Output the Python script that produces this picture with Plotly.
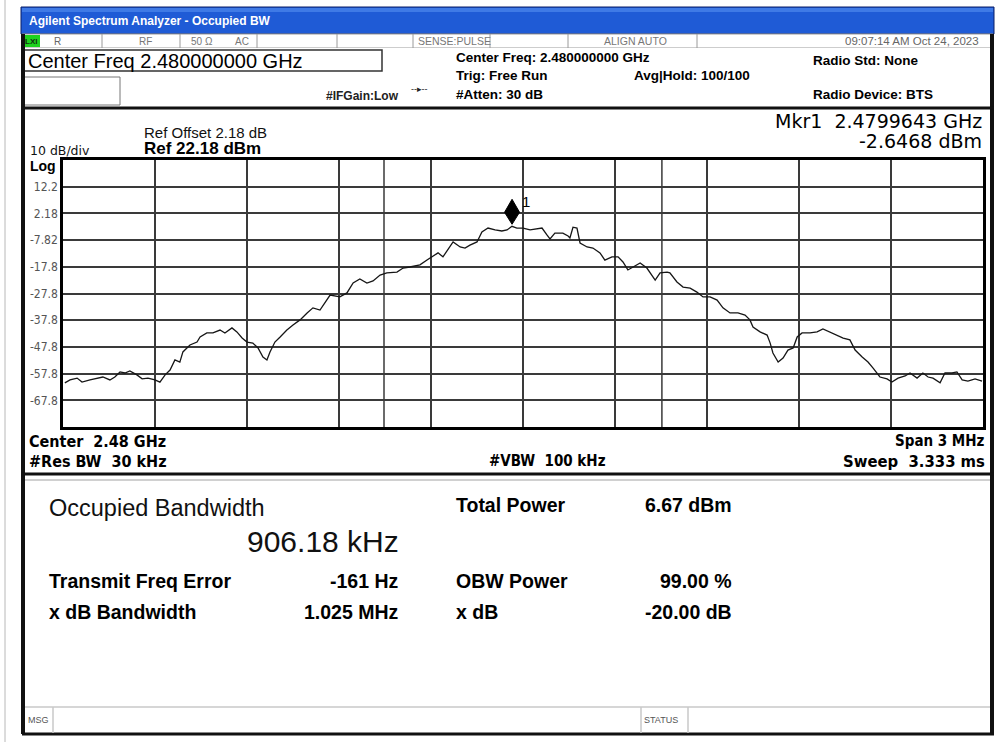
import plotly.graph_objects as go

# ---------------- data ----------------
freq_khz = [
    -1494, -1477, -1454, -1438, -1412, -1386, -1370, -1347, -1331, -1314,
    -1298, -1282, -1259, -1242, -1223, -1200, -1184, -1167, -1151, -1135,
    -1119, -1109, -1086, -1063, -1053, -1031, -1011, -988, -972, -949,
    -933, -916, -900, -881, -864, -848, -835, -825, -809, -792,
    -770, -750, -727, -704, -685, -662, -646, -629, -597, -574,
    -554, -532, -509, -489, -466, -444, -411, -391, -369, -336,
    -313, -297, -277, -261, -245, -228, -205, -189, -173, -150,
    -134, -114, -91, -69, -52, -36, -20, 0, 23, 46,
    62, 78, 88, 104, 130, 147, 153, 163, 176, 186,
    209, 228, 251, 267, 290, 310, 326, 342, 359, 382,
    404, 421, 431, 447, 470, 479, 502, 522, 545, 567,
    587, 610, 633, 652, 675, 701, 724, 740, 750, 773,
    796, 806, 815, 832, 848, 864, 881, 894, 910, 936,
    959, 978, 1001, 1024, 1044, 1066, 1083, 1106, 1125, 1141,
    1164, 1187, 1203, 1223, 1246, 1262, 1285, 1304, 1321, 1337,
    1360, 1376, 1399, 1415, 1432, 1451, 1474, 1497,
]
level_dbm = [
    -61.3, -60.2, -59.5, -61.0, -60.2, -59.5, -59.1, -60.2, -59.1, -57.2,
    -57.6, -56.8, -58.3, -59.8, -59.5, -60.2, -61.0, -58.3, -56.5, -52.7,
    -53.5, -49.7, -47.1, -46.0, -44.1, -42.6, -42.6, -41.5, -42.6, -40.7,
    -42.2, -44.5, -46.0, -46.4, -48.2, -51.6, -52.7, -49.7, -46.0, -44.1,
    -41.5, -39.6, -37.7, -35.1, -33.2, -34.0, -31.4, -28.4, -29.1, -27.6,
    -23.9, -22.4, -23.9, -23.1, -20.9, -20.1, -19.8, -18.3, -17.9, -17.1,
    -15.3, -14.1, -12.6, -14.1, -11.5, -8.5, -10.4, -10.8, -9.7, -8.5,
    -4.8, -3.3, -4.0, -4.4, -4.0, -2.65, -3.3, -3.3, -4.0, -3.7,
    -3.3, -5.9, -7.4, -5.2, -5.2, -6.3, -7.0, -3.0, -3.3, -8.9,
    -10.4, -10.8, -12.6, -15.3, -14.1, -14.1, -16.0, -19.0, -17.9, -16.4,
    -18.3, -20.9, -22.8, -20.1, -19.8, -20.1, -23.5, -25.4, -25.8, -27.3,
    -29.1, -29.1, -30.3, -33.2, -35.1, -35.1, -35.9, -37.7, -40.4, -42.2,
    -43.4, -46.4, -50.1, -53.5, -52.0, -49.0, -48.2, -44.1, -42.6, -42.6,
    -42.2, -41.1, -42.2, -43.4, -44.5, -45.2, -49.0, -51.6, -53.5, -55.7,
    -59.1, -59.8, -61.0, -59.5, -58.7, -57.6, -59.5, -57.6, -59.1, -59.5,
    -61.3, -57.6, -57.6, -57.2, -60.2, -60.6, -59.8, -60.6,
]
assert len(freq_khz) == len(level_dbm)

span_khz = 3000
ref_level = 22.18
db_per_div = 10
ytick_labels = ["12.2", "2.18", "-7.82", "-17.8", "-27.8", "-37.8", "-47.8", "-57.8", "-67.8"]
ytick_vals = [ref_level - db_per_div * (i + 1) for i in range(len(ytick_labels))]

mkr_freq_khz = -35.7
mkr_level = -2.6468
obw_khz = 906.18
freq_err_khz = -0.161
obw_edges = [freq_err_khz - obw_khz / 2, freq_err_khz + obw_khz / 2]

# ---------------- geometry helpers ----------------
W, H = 1001, 742
L, R, T, B = 63, 983, 160, 427


def px(x):
    return (x - L) / (R - L)


def py(y):
    return (B - y) / (B - T)


shapes = []
annos = []

SANS = "Liberation Sans, Arial, DejaVu Sans, sans-serif"
WIDE = "DejaVu Sans, Verdana, sans-serif"
NARROW = "Liberation Sans Narrow, DejaVu Sans Condensed, Arial Narrow, sans-serif"


def rect(x0, y0, x1, y1, fill=None, line_color=None, lw=0, layer="below"):
    d = dict(type="rect", xref="paper", yref="paper",
             x0=px(x0), x1=px(x1), y0=py(y1), y1=py(y0), layer=layer,
             line=dict(width=lw, color=line_color or "rgba(0,0,0,0)"))
    if fill:
        d["fillcolor"] = fill
    shapes.append(d)


def line(x0, y0, x1, y1, color="#000", lw=1, layer="below"):
    shapes.append(dict(type="line", xref="paper", yref="paper",
                       x0=px(x0), x1=px(x1), y0=py(y0), y1=py(y1), layer=layer,
                       line=dict(width=lw, color=color)))


def text(x, y, s, size, color="#000", bold=False, xanchor="left", family=SANS):
    annos.append(dict(x=px(x), y=py(y), xref="paper", yref="paper", text=s,
                      showarrow=False, xanchor=xanchor, yanchor="middle",
                      borderpad=0,
                      font=dict(size=size, color=color, family=family,
                                weight="bold" if bold else "normal")))


# window edge
line(5, 0, 5, 742, color="#b8b8b8", lw=1)

# title bar
rect(21, 7, 994, 34, fill="#1f5bd6", line_color="#0b1f66", lw=1)
rect(22, 8, 993, 12, fill="#3f7ae6")
text(28, 21, "Agilent Spectrum Analyzer - Occupied BW", 12, color="#ffffff", bold=True)

# status row
rect(22, 34, 993, 48, fill="#ffffff", line_color="#9a9a9a", lw=1)
rect(23, 35, 40, 47, fill="#1ed21e")
text(24, 41, "LXI", 8, color="#103010", bold=True)
text(53, 41, "R", 10, color="#666666")
text(138, 41, "RF", 10, color="#777777")
text(190, 41, "50 Ω", 10, color="#777777")
text(234, 41, "AC", 10, color="#777777")
text(417, 41, "SENSE:PULSE", 10.5, color="#777777")
text(603, 41, "ALIGN AUTO", 10.5, color="#777777")
text(980, 41, "09:07:14 AM Oct 24, 2023", 11.5, color="#666666", xanchor="right")
for xd in [102, 180, 257, 337, 413, 490, 568, 697]:
    line(xd, 34, xd, 48, color="#9a9a9a", lw=1)

# header area
rect(22, 48, 993, 108, fill="#ffffff")
rect(24, 50, 382, 71, fill="#ffffff", line_color="#333333", lw=1.5)
text(27, 61, "Center Freq 2.480000000 GHz", 20, color="#000")
rect(24, 77, 120, 105, fill="#ffffff", line_color="#777777", lw=1)
text(325, 96, "#IFGain:Low", 12, bold=True, color="#222")
text(410, 89, "--▸--", 9, color="#222")
text(455, 58, "Center Freq: 2.480000000 GHz", 13.5, bold=True)
text(455, 76, "Trig: Free Run", 13.5, bold=True)
text(455, 94, "#Atten: 30 dB", 13.5, bold=True)
text(633, 76, "Avg|Hold: 100/100", 13.5, bold=True)
text(812, 60, "Radio Std: None", 13.5, bold=True)
text(812, 94, "Radio Device: BTS", 13.5, bold=True)

# screen frame (thick dark)
line(23, 34, 23, 734, color="#111", lw=4)
line(992, 34, 992, 734, color="#111", lw=4)
line(22, 734, 994, 734, color="#111", lw=3)
line(22, 108, 994, 108, color="#111", lw=3)
line(22, 474, 994, 474, color="#111", lw=3)
line(25, 480, 990, 480, color="#c0c0c0", lw=1.5)

# plot panel header texts
text(143, 132, "Ref Offset 2.18 dB", 15, color="#111")
text(143, 149, "Ref 22.18 dBm", 17, bold=True)
text(29, 151, "10 dB/div", 12.5, color="#111", family=WIDE)
text(29, 166, "Log", 14, bold=True)
text(983, 121, "Mkr1  2.4799643 GHz", 19, xanchor="right", family=WIDE)
text(983, 141, "-2.6468 dBm", 19, xanchor="right", family=WIDE)

# below the graticule
text(28, 441, "Center  2.48 GHz", 16, bold=True, family=NARROW)
text(28, 461, "#Res BW  30 kHz", 16, bold=True, family=NARROW)
text(488, 461, "#VBW  100 kHz", 15, bold=True, family=NARROW)
text(986, 441, "Span 3 MHz", 15, bold=True, family=NARROW, xanchor="right")
text(986, 461, "Sweep  3.333 ms", 16.5, bold=True, family=NARROW, xanchor="right")

# results panel
text(48, 508, "Occupied Bandwidth", 23.5, color="#111")
text(400, 541, "906.18 kHz", 30, color="#111", xanchor="right")
text(48, 581, "Transmit Freq Error", 19.5, bold=True)
text(400, 581, "-161 Hz", 19.5, bold=True, xanchor="right")
text(48, 612, "x dB Bandwidth", 19.5, bold=True)
text(400, 612, "1.025 MHz", 19.5, bold=True, xanchor="right")
text(455, 505, "Total Power", 19.5, bold=True)
text(733, 505, "6.67 dBm", 19.5, bold=True, xanchor="right")
text(455, 581, "OBW Power", 19.5, bold=True)
text(733, 581, "99.00 %", 19.5, bold=True, xanchor="right")
text(455, 612, "x dB", 19.5, bold=True)
text(733, 612, "-20.00 dB", 19.5, bold=True, xanchor="right")

# message bar
line(25, 707, 990, 707, color="#c8c8c8", lw=1.5)
for xd in [53, 641, 688]:
    line(xd, 707, xd, 733, color="#c8c8c8", lw=1.5)
text(27, 720, "MSG", 9, color="#555")
text(643, 720, "STATUS", 9, color="#555")

# OBW boundary lines (data coords)
for xe in obw_edges:
    shapes.append(dict(type="line", xref="x", yref="paper", x0=xe, x1=xe, y0=0, y1=1,
                       layer="below", line=dict(color="#3a3a3a", width=1.5)))

# marker diamond (pixel-sized path anchored at marker point)
shapes.append(dict(type="path", xref="x", yref="y", xsizemode="pixel", ysizemode="pixel",
                   xanchor=mkr_freq_khz, yanchor=mkr_level,
                   path="M 0 2 L 7.5 14 L 0 27 L -7.5 14 Z",
                   fillcolor="#000", line=dict(color="#000", width=1), layer="above"))
annos.append(dict(x=mkr_freq_khz, y=mkr_level, xref="x", yref="y", text="1",
                  showarrow=False, xshift=14, yshift=25,
                  font=dict(size=15, color="#000", family=SANS)))

fig = go.Figure()
fig.add_trace(go.Scatter(x=freq_khz, y=level_dbm, mode="lines",
                         line=dict(color="#161616", width=1.3), hoverinfo="skip",
                         showlegend=False))

fig.update_layout(
    width=W, height=H, autosize=False,
    margin=dict(l=L, r=W - R, t=T, b=H - B, pad=0),
    paper_bgcolor="#ffffff", plot_bgcolor="#ffffff",
    shapes=shapes, annotations=annos, showlegend=False,
    xaxis=dict(range=[-span_khz / 2, span_khz / 2], dtick=span_khz / 10, tick0=0,
               showticklabels=False, ticks="", showgrid=True,
               gridcolor="#3a3a3a", gridwidth=1.5, zeroline=False,
               showline=True, mirror=True, linecolor="#000", linewidth=2.5,
               fixedrange=True),
    yaxis=dict(range=[ref_level - 10 * db_per_div, ref_level],
               tickvals=ytick_vals, ticktext=ytick_labels, ticks="",
               tickfont=dict(size=12, color="#555", family=NARROW),
               showgrid=True, gridcolor="#3a3a3a", gridwidth=1.5, zeroline=False,
               showline=True, mirror=True, linecolor="#000", linewidth=2.5,
               fixedrange=True),
)

fig.write_html("out.html", config={"displayModeBar": False},
               post_script="document.body.style.margin='0px';document.body.style.overflow='hidden';")
